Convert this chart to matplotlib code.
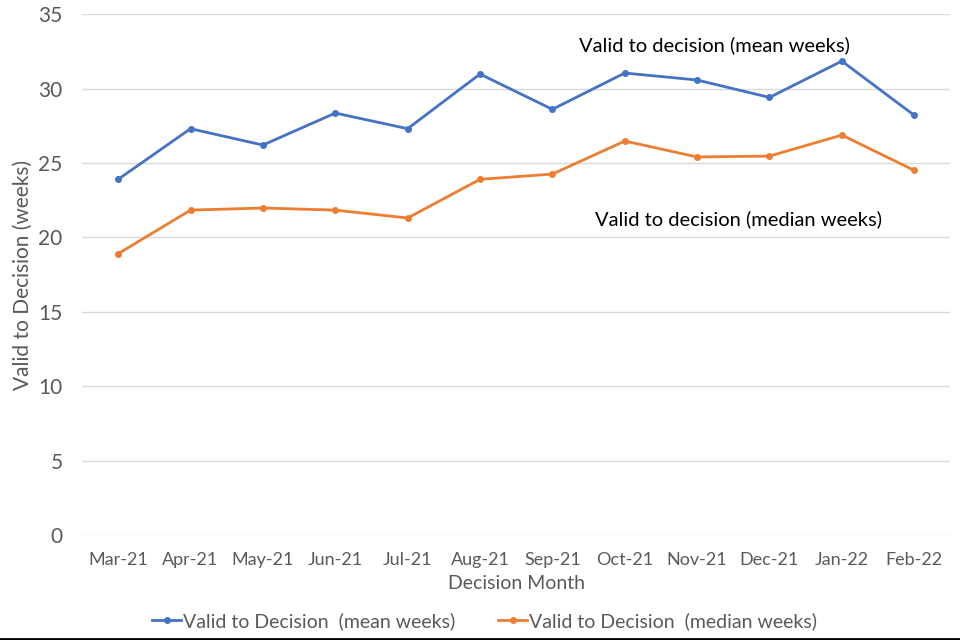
import matplotlib.pyplot as plt
from matplotlib.lines import Line2D

months = ['Mar-21', 'Apr-21', 'May-21', 'Jun-21', 'Jul-21', 'Aug-21',
          'Sep-21', 'Oct-21', 'Nov-21', 'Dec-21', 'Jan-22', 'Feb-22']
mean_weeks = [23.9, 27.3, 26.2, 28.35, 27.3, 30.97, 28.6, 31.04, 30.57, 29.4, 31.84, 28.2]
median_weeks = [18.9, 21.83, 21.97, 21.83, 21.3, 23.9, 24.25, 26.47, 25.4, 25.46, 26.87, 24.5]
y_ticks = [0, 5, 10, 15, 20, 25, 30, 35]

plt.rcParams['font.family'] = ['Lato', 'DejaVu Sans']
grey = '#595959'

fig = plt.figure(figsize=(9.6, 6.4), dpi=100)
ax = fig.add_axes([0.0854, 0.164, 0.9046, 0.814])

x = range(len(months))
ax.plot(x, mean_weeks, color='#4472C4', lw=2, marker='o', ms=4,
        label='Valid to Decision  (mean weeks)')
ax.plot(x, median_weeks, color='#ED7D31', lw=2, marker='o', ms=4,
        label='Valid to Decision  (median weeks)')

ax.set_xlim(-0.5, len(months) - 0.5)
ax.set_ylim(0, 35)
ax.set_yticks(y_ticks)
ax.set_xticks(list(x))
ax.set_xticklabels(months)
ax.grid(axis='y', color='#d9d9d9', lw=1)
ax.set_axisbelow(True)
for s in ax.spines.values():
    s.set_visible(False)
ax.tick_params(length=0)
ax.tick_params(axis='x', labelsize=13, colors=grey, pad=12)
ax.tick_params(axis='y', labelsize=15, colors=grey, pad=14)

ax.set_xlabel('Decision Month', fontsize=14, color=grey, labelpad=5)
ax.set_ylabel('Valid to Decision (weeks)', fontsize=15, color=grey)
ax.yaxis.set_label_coords(-0.057, 0.5)

ax.text(8.24, 32.9, 'Valid to decision (mean weeks)', fontsize=14.5,
        ha='center', va='center', color='black')
ax.text(8.57, 21.2, 'Valid to decision (median weeks)', fontsize=14.5,
        ha='center', va='center', color='black')

fig.legend(loc='center', bbox_to_anchor=(0.505, 0.03), ncol=2, frameon=False,
           fontsize=14, labelcolor=grey, handlelength=1.5, handletextpad=0.1,
           columnspacing=2.2)

# black border line along the bottom of the image
fig.add_artist(Line2D([0, 1], [0.002, 0.002], color='black', lw=2,
                      transform=fig.transFigure))

fig.savefig('out.png', dpi=100)
